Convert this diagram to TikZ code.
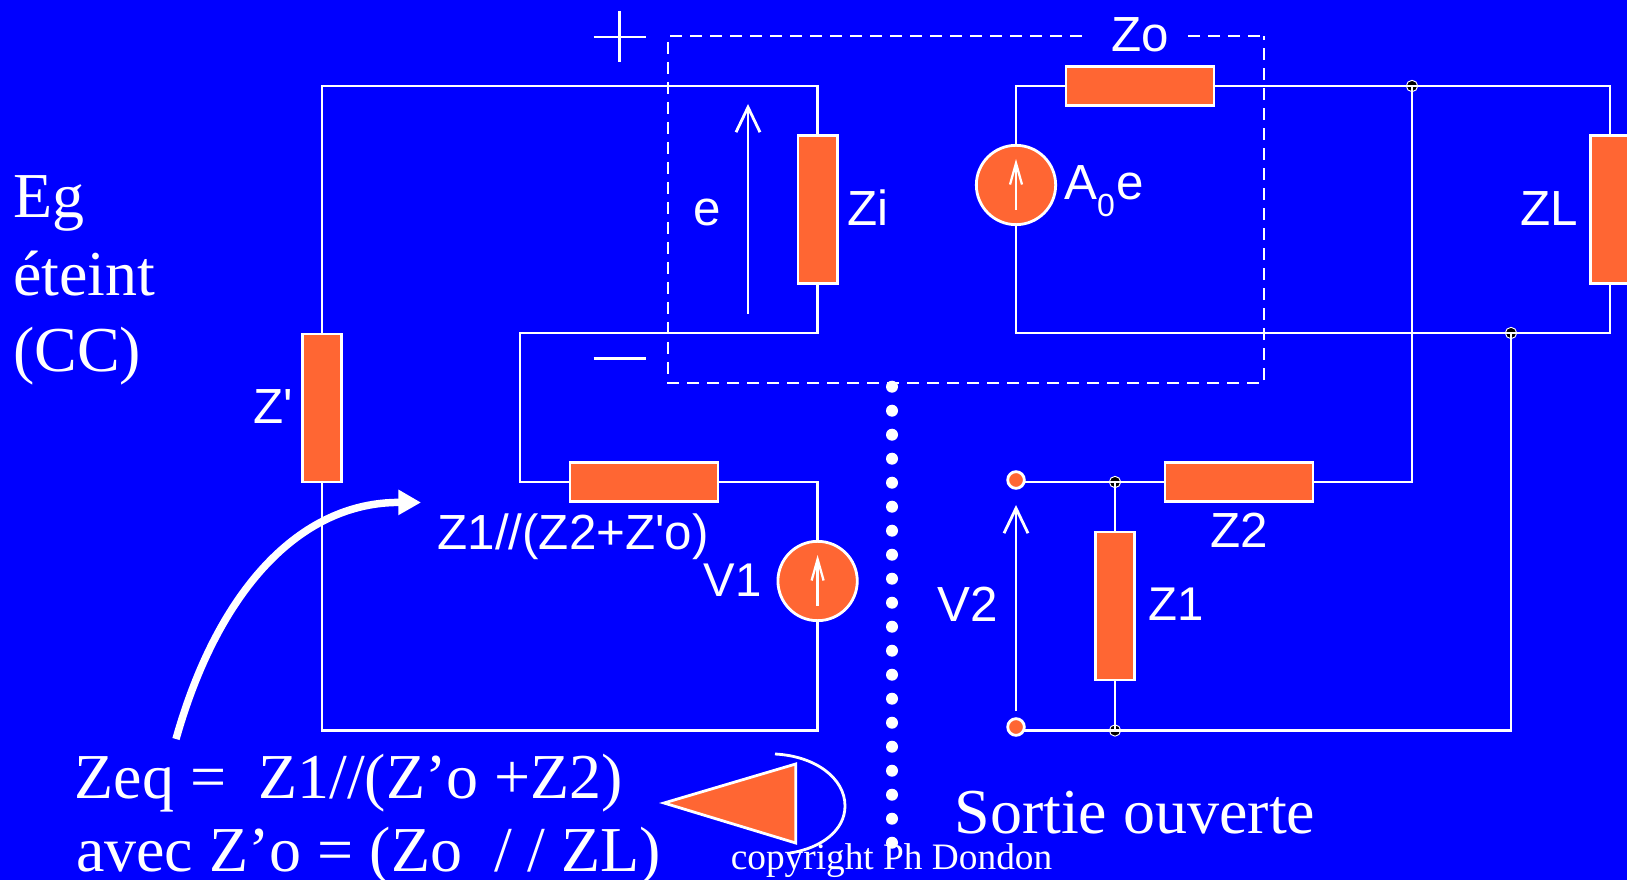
\documentclass[tikz,border=0pt]{standalone}
\usepackage{fontspec}
\setmainfont{Liberation Serif}
\setsansfont{Liberation Sans}
\usetikzlibrary{arrows.meta}
\definecolor{bgblue}{HTML}{0000FF}
\definecolor{rorange}{HTML}{FF6633}
\tikzset{
  wire/.style={draw=white,line width=2.1pt,line join=miter},
  resv/.style={draw=white,fill=rorange,line width=2.1pt,minimum width=29.5pt,minimum height=111pt,inner sep=0pt,outer sep=0pt},
  resh/.style={draw=white,fill=rorange,line width=2.1pt,minimum width=111pt,minimum height=29.5pt,inner sep=0pt,outer sep=0pt},
  source/.style={circle,draw=white,fill=rorange,line width=2.1pt,minimum size=59.5pt,inner sep=0pt,outer sep=0pt},
  terminal/.style={circle,draw=white,fill=rorange,line width=2.1pt,minimum size=12.5pt,inner sep=0pt,outer sep=0pt},
  junction/.style={circle,draw=white,fill=black,line width=.7pt,minimum size=8.5pt,inner sep=0pt,outer sep=0pt},
  pdot/.style={circle,fill=white,minimum size=9pt,inner sep=0pt,outer sep=0pt},
  sflabel/.style={anchor=base west,text=white,inner sep=0pt,outer sep=0pt,font=\sffamily\fontsize{37}{42}\selectfont},
  sfsmall/.style={sflabel,font=\sffamily\fontsize{35.5}{40}\selectfont},
  rmlabel/.style={anchor=base west,text=white,inner sep=0pt,outer sep=0pt,font=\rmfamily\fontsize{48}{54}\selectfont},
  voltarrow/.style={draw=white,line width=2.1pt,-{Straight Barb[length=18.75pt,width=18pt,line width=2.1pt]}},
  srcarrow/.style={draw=white,line width=2.1pt,-{Straight Barb[length=16pt,width=9pt,line width=1.7pt]}},
  dashbox/.style={draw=white,line width=2.2pt,dash pattern=on 9pt off 6pt},
}
\begin{document}
\begin{tikzpicture}[x=0.75pt,y=-0.75pt]
\useasboundingbox (0,0) rectangle (1627,880);
\fill[bgblue] (0,0) rectangle (1627,880);

% corners
\coordinate (tl) at (322,86);
\coordinate (tr) at (817.6,86);
\coordinate (mr) at (817.6,333);
\coordinate (ml) at (520,333);
\coordinate (ll) at (520,482);
\coordinate (lr) at (817.6,482);
\coordinate (br) at (817.6,730.5);
\coordinate (bl) at (322,730.5);
\coordinate (st) at (1016,86);
\coordinate (sb) at (1016,333);
\coordinate (zt) at (1610,86);
\coordinate (zb) at (1610,333);
\coordinate (zu) at (1412,482);

% junctions (under the wires)
\node[junction] (j1) at (1412,86) {};
\node[junction] (j2) at (1511,333) {};
\node[junction] (j3) at (1115,482) {};
\node[junction] (j4) at (1115,730.5) {};

% components
\node[resv] (zp) at (322,408) {};
\node[resv] (zi) at (817.6,209.5) {};
\node[resv] (zl) at (1610,209.5) {};
\node[resv] (zone) at (1115,606) {};
\node[resh] (zo) at (1140,86) {};
\node[resh] (zpar) at (644,482) {};
\node[resh] (ztwo) at (1239,482) {};
\node[source] (a0) at (1016,185) {};
\node[source] (v1) at (817.6,581) {};
\node[terminal] (t1) at (1016,480) {};
\node[terminal] (t2) at (1016,727) {};

% wires
\draw[wire] (zp.north) -- (tl) -- (tr) -- (zi.north);
\draw[wire] (zi.south) -- (mr) -- (ml) -- (ll) -- (zpar.west);
\draw[wire] (zpar.east) -- (lr) -- (v1.north);
\draw[wire] (v1.south) -- (br) -- (bl) -- (zp.south);
\draw[wire] (a0.north) -- (st) -- (zo.west);
\draw[wire] (a0.south) -- (sb) -- (zb) -- (zl.south);
\draw[wire] (zo.east) -- (j1.center) -- (zt) -- (zl.north);
\draw[wire] (j1.center) -- (zu) -- (ztwo.east);
\draw[wire] (ztwo.west) -- (j3.center) -- (t1.east |- j3.center);
\draw[wire] (j3.center) -- (zone.north);
\draw[wire] (zone.south) -- (j4.center);
\draw[wire] (t2.east |- j4.center) -- (j4.center) -- (j2.center |- j4.center) -- (j2.center);

% arrows in the sources
\coordinate (a0a) at (1016,210); \coordinate (a0b) at (1016,159);
\coordinate (v1a) at (817.6,606); \coordinate (v1b) at (817.6,555);
\draw[srcarrow] (a0a) -- (a0b);
\draw[srcarrow] (v1a) -- (v1b);

% voltage arrows
\coordinate (ea) at (748,314); \coordinate (eb) at (748,104);
\coordinate (va) at (1016,711); \coordinate (vb) at (1016,505);
\draw[voltarrow] (ea) -- (eb);
\draw[voltarrow] (va) -- (vb);

% plus / minus
\coordinate (pl) at (593.5,37); \coordinate (prr) at (645.5,37);
\coordinate (pt) at (619.5,11); \coordinate (pb) at (619.5,62);
\coordinate (ma) at (593.5,358.5); \coordinate (mb) at (645.5,358.5);
\draw[wire] (pl) -- (prr);
\draw[wire] (pt) -- (pb);
\draw[wire] (ma) -- (mb);

% dashed box
\coordinate (d1) at (1082,36); \coordinate (d2) at (668,36);
\coordinate (d3) at (668,383); \coordinate (d4) at (1264,383);
\coordinate (d5) at (1264,36); \coordinate (d6) at (1188,36);
\draw[dashbox] (d1) -- (d2) -- (d3) -- (d4) -- (d5);
\draw[dashbox] (d6) -- (d5);

% dotted separator
\foreach \i in {0,...,19} {
  \node[pdot] (sep\i) at (892,386.7+24*\i) {};
}

% labels
\node[sflabel] (lzo) at (1111.5,51.5) {Zo};
\node[sflabel] (le) at (693.5,226) {e};
\node[sflabel] (lzi) at (847.5,226) {Zi};
\node[sflabel] (la) at (1064,200) {A};
\node[sflabel,font=\sffamily\fontsize{24}{28}\selectfont] (lzero) at (1097,217) {0};
\node[sflabel] (lae) at (1116,200) {e};
\node[sflabel] (lzp) at (253.5,423) {Z\textquotesingle};
\node[sflabel] (lzl) at (1520.5,226) {ZL};
\node[sflabel] (lpar) at (437.5,549) {Z1//(Z2+Z\textquotesingle o)};
\node[sfsmall] (lv1) at (703.5,596.5) {V1};
\node[sflabel] (lv2) at (937.5,621.5) {V2};
\node[sflabel] (lz2) at (1210.5,547.5) {Z2};
\node[sfsmall] (lz1) at (1148.5,620.5) {Z1};

\node[rmlabel] (leg) at (13,218) {Eg};
\node[rmlabel] (let) at (13,296) {éteint};
\node[rmlabel] (lcc) at (13,372) {(CC)};
\node[rmlabel] (lzeq) at (74.5,798) {Zeq =\ \ Z1//(Z’o +Z2)};
\node[rmlabel] (lav) at (76,871.5) {avec Z’o = (Zo\ \ / / ZL)};
\node[rmlabel] (lso) at (954.5,833) {Sortie ouverte};

% big arrow
\coordinate (ca) at (176,739);
\coordinate (cb) at (421,502.5);
\draw[draw=white,line width=5.6pt,-{Triangle[length=17pt,width=18pt]}] (ca) .. controls (218,590) and (300,502) .. (cb);

% triangle and arc
\coordinate (arca) at (775,754);
\coordinate (arcm) at (845,806);
\coordinate (arcb) at (790,853);
\draw[draw=white,line width=2.1pt] (arca) .. controls (815,756) and (845,778) .. (arcm) .. controls (845,830) and (822,848) .. (arcb);
\coordinate (ta) at (664,803); \coordinate (tb) at (795.7,764); \coordinate (tc) at (795.7,843);
\draw[draw=white,fill=rorange,line width=2.1pt,line join=miter] (ta) -- (tb) -- (tc) -- cycle;

\node[anchor=base west,text=white,inner sep=0pt,font=\rmfamily\fontsize{28}{32}\selectfont] (lcp) at (730.5,869) {copyright Ph Dondon};
\end{tikzpicture}
\end{document}
